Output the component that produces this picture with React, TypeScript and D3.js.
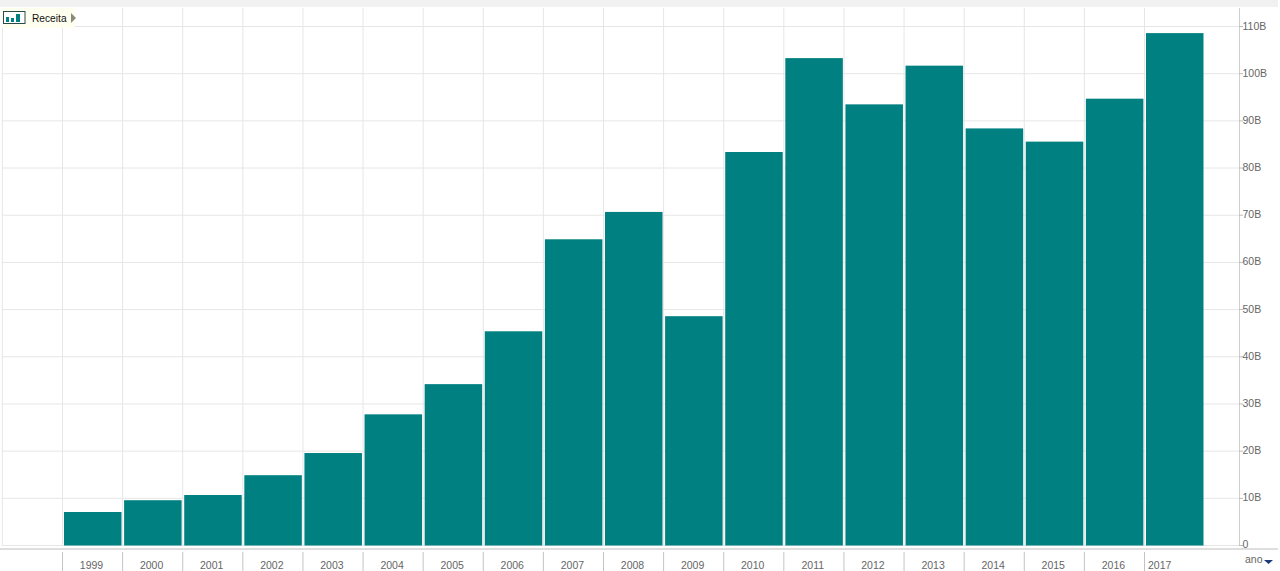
import React from "react";
import * as d3 from "d3";

const years = [1999, 2000, 2001, 2002, 2003, 2004, 2005, 2006, 2007, 2008, 2009, 2010, 2011, 2012, 2013, 2014, 2015, 2016, 2017];
const revenue = [7.1, 9.6, 10.7, 14.9, 19.6, 27.8, 34.2, 45.4, 64.9, 70.7, 48.6, 83.4, 103.3, 93.5, 101.7, 88.4, 85.6, 94.7, 108.6];
const yTicks = [0, 10, 20, 30, 40, 50, 60, 70, 80, 90, 100, 110];
const gridYears = [1998, ...years];

const teal = "#008080";
const grid = "#e6e6e6";
const font = "'Liberation Sans', Arial, sans-serif";

export default function App() {
  const x = d3.scaleLinear().domain([1999, 2017]).range([62.5, 1144.5]);
  const y = d3.scaleLinear().domain([0, 110]).range([545.5, 26.5]);
  const fmt = (d: number) => (d === 0 ? "0" : d + "B");

  return (
    <svg width={1280} height={571} style={{ position: "absolute", left: 0, top: 0, background: "#fff" }} fontFamily={font}>
      {/* top strip */}
      <rect x={0} y={0} width={1278} height={7} fill="#f1f1f1" />

      {/* grid */}
      {yTicks.map((t) => (
        <line key={t} x1={2} x2={1239} y1={y(t)} y2={y(t)} stroke={grid} />
      ))}
      {gridYears.map((yr) => (
        <line key={yr} x1={x(yr)} x2={x(yr)} y1={8} y2={546} stroke={grid} />
      ))}

      {/* bars */}
      {years.map((yr, i) => (
        <rect
          key={yr}
          x={x(yr) + 1.5}
          width={57.5}
          y={y(revenue[i])}
          height={y(0) - y(revenue[i])}
          fill={teal}
        />
      ))}

      {/* right axis */}
      <line x1={1239.5} x2={1239.5} y1={8} y2={546} stroke="#cfcfcf" />
      {yTicks.map((t) => (
        <g key={t}>
          <line x1={1239} x2={1243} y1={y(t)} y2={y(t)} stroke="#bdbdbd" />
          <text x={1242.5} y={t === 0 ? y(t) + 2 : y(t) + 3} fontSize={10.5} fill="#666">
            {fmt(t)}
          </text>
        </g>
      ))}

      {/* bottom axis */}
      <rect x={0} y={548} width={1278} height={2} fill="#dedede" />
      {years.map((yr) => (
        <g key={yr}>
          <line x1={x(yr)} x2={x(yr)} y1={552} y2={571} stroke="#c4c4c4" />
          <text
            x={yr === 2017 ? x(yr) + 3.5 : x(yr) + 29}
            y={569}
            fontSize={10.5}
            fill="#666"
            textAnchor={yr === 2017 ? "start" : "middle"}
          >
            {yr}
          </text>
        </g>
      ))}
      <text x={1245} y={563} fontSize={10.5} fill="#666">
        ano
      </text>
      <path d="M1264 560h9l-4.5 4z" fill="#1f3a7a" />

      {/* legend */}
      <rect x={2} y={8} width={73} height={20} fill="#fffff0" />
      <rect x={3.5} y={11.5} width={21.5} height={12} fill="#fff" stroke="#2a4a4a" />
      <rect x={6} y={17} width={3} height={5} fill={teal} />
      <rect x={11} y={18} width={3} height={4} fill={teal} />
      <rect x={16} y={14} width={4} height={8} fill={teal} />
      <text x={32} y={22} fontSize={10.2} fill="#111">
        Receita
      </text>
      <path d="M71 13l5 5-5 5z" fill="#8a8a7a" />
    </svg>
  );
}
